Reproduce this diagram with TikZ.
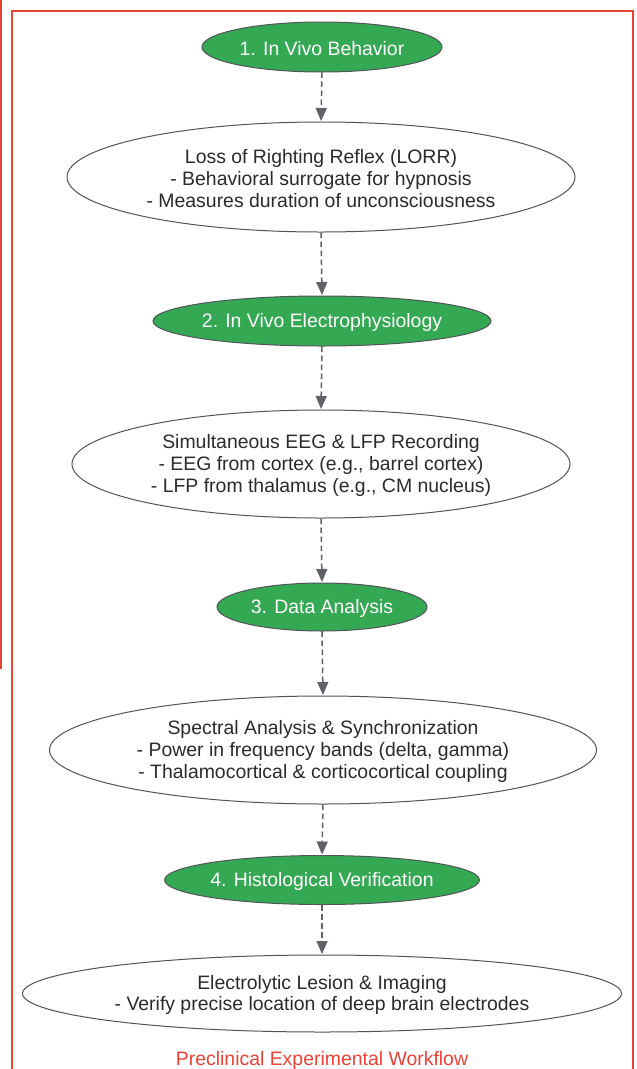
\documentclass[tikz,border=0pt]{standalone}
\usepackage{fontspec}
\setmainfont{Liberation Sans}
\usetikzlibrary{shapes.geometric,arrows.meta}
\definecolor{gnode}{HTML}{34A853}
\definecolor{edgegray}{HTML}{5F6368}
\definecolor{txtdark}{HTML}{2B2B2B}
\definecolor{redframe}{HTML}{EA4335}
\tikzset{
  ell/.style={ellipse, draw=edgegray!85!black, line width=1bp, inner sep=0pt},
  greenell/.style={ell, fill=gnode},
  whiteell/.style={ell, fill=white},
  lbl/.style={align=center, inner sep=0pt, font=\fontsize{19.5}{22}\selectfont},
  greenlbl/.style={lbl, text=white, yshift=-1.5bp},
  whitelbl/.style={lbl, text=txtdark, yshift=-1.5bp},
  flow/.style={draw=edgegray, line width=1.5bp, dash pattern=on 5.5bp off 3.5bp,
    -{Triangle[length=13bp,width=11bp]}, shorten >=0.5bp},
}
\begin{document}
\begin{tikzpicture}[x=1bp,y=-1bp]
\useasboundingbox (0,0) rectangle (637,1069);
\clip (0,0) rectangle (637,1069);
\fill[white] (0,0) rectangle (637,1069);
% frames
\draw[redframe, line width=1.4bp] (-10,668) -- (1,668) -- (1,-10);
\draw[redframe, line width=1.4bp] (12,1080) -- (12,11) -- (633,11) -- (633,1080);
% nodes
\node[greenell, minimum width=240bp, minimum height=50bp] (n1) at (322,47) {};
\node[greenlbl] at (n1.center) {1. In Vivo Behavior};
\node[whiteell, minimum width=508bp, minimum height=110bp] (n2) at (321,177) {};
\node[whitelbl] at (n2.center) {Loss of Righting Reflex (LORR)\\- Behavioral surrogate for hypnosis\\- Measures duration of unconsciousness};
\node[greenell, minimum width=338bp, minimum height=50bp] (n3) at (322,321) {};
\node[greenlbl] at (n3.center) {2. In Vivo Electrophysiology};
\node[whiteell, minimum width=498bp, minimum height=108bp] (n4) at (321,464) {};
\node[whitelbl] at (n4.center) {Simultaneous EEG \& LFP Recording\\- EEG from cortex (e.g., barrel cortex)\\- LFP from thalamus (e.g., CM nucleus)};
\node[greenell, minimum width=210bp, minimum height=48bp] (n5) at (322,607) {};
\node[greenlbl] at (n5.center) {3. Data Analysis};
\node[whiteell, minimum width=547bp, minimum height=108bp] (n6) at (323,750) {};
\node[whitelbl] at (n6.center) {Spectral Analysis \& Synchronization\\- Power in frequency bands (delta, gamma)\\- Thalamocortical \& corticocortical coupling};
\node[greenell, minimum width=315bp, minimum height=49bp] (n7) at (322,880) {};
\node[greenlbl] at (n7.center) {4. Histological Verification};
\node[whiteell, minimum width=599bp, minimum height=77bp] (n8) at (322,993.5) {};
\node[whitelbl] at (n8.center) {Electrolytic Lesion \& Imaging\\- Verify precise location of deep brain electrodes};
\node[lbl, text=redframe] (title) at (322,1060) {Preclinical Experimental Workflow};
% connectors
\draw[flow] (n1.south) -- (n2.north);
\draw[flow] (n2.south) -- (n3.north);
\draw[flow] (n3.south) -- (n4.north);
\draw[flow] (n4.south) -- (n5.north);
\draw[flow] (n5.south) -- (n6.north);
\draw[flow] (n6.south) -- (n7.north);
\draw[flow] (n7.south) -- (n8.north);
\end{tikzpicture}
\end{document}
